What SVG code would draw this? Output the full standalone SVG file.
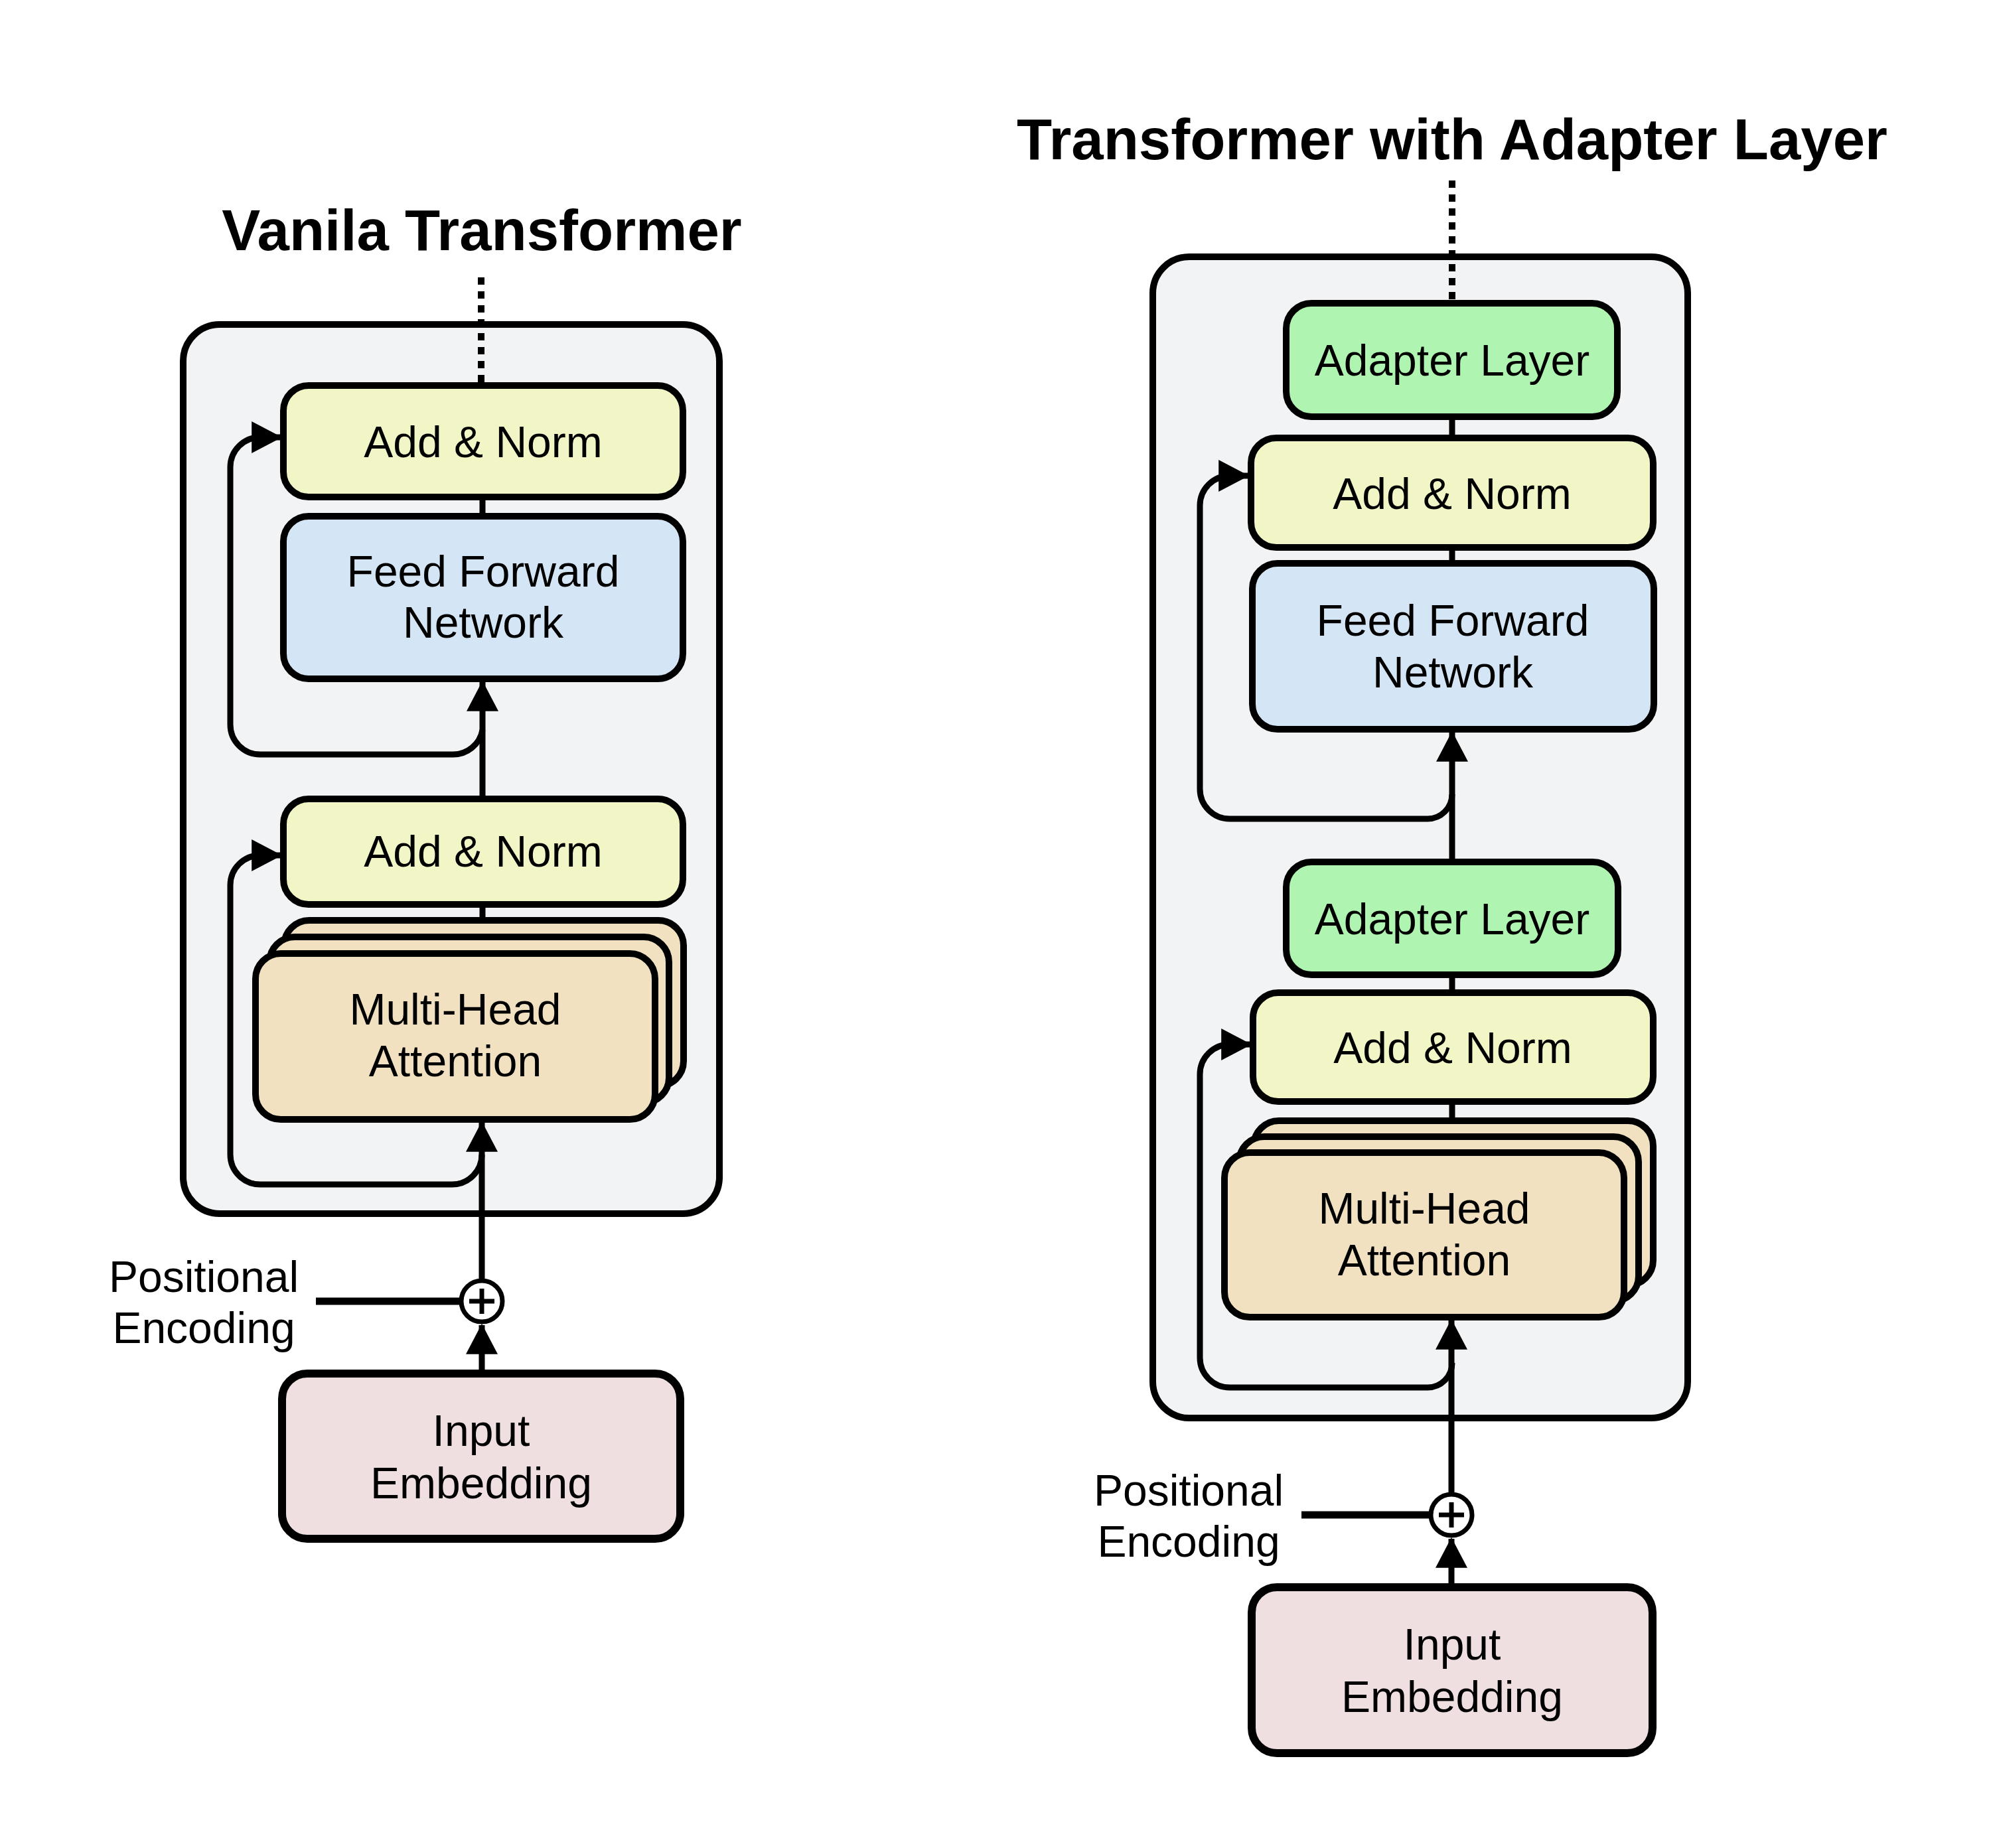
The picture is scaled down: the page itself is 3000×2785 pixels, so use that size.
<svg xmlns="http://www.w3.org/2000/svg" width="3000" height="2785" viewBox="0 0 3000 2785">
<style>
.bg{fill:#ffffff}
.cont{fill:#f2f3f5;stroke:#000;stroke-width:10}
.box{stroke:#000;stroke-width:10}
.an{fill:#f2f5c5}
.ffn{fill:#d4e6f5}
.mha{fill:#f2e1c1}
.ad{fill:#aff5b1}
.ie{fill:#efdfe0;stroke-width:12}
.t{font-family:"Liberation Sans",Arial,Helvetica,sans-serif;font-size:66px;fill:#000;text-anchor:middle}
.title{font-family:"Liberation Sans",Arial,Helvetica,sans-serif;font-size:87px;font-weight:bold;fill:#000;text-anchor:middle}
.ln{fill:none;stroke:#000;stroke-width:9}
.arr{fill:none;stroke:#000;stroke-width:9;marker-end:url(#ah)}
.dot{fill:none;stroke:#000;stroke-width:10;stroke-dasharray:11 10}
.plus{fill:#fff;stroke:#000;stroke-width:7}
</style>
<defs>
<marker id="ah" markerUnits="userSpaceOnUse" markerWidth="46" markerHeight="48" viewBox="0 0 44 46" refX="42" refY="23" orient="auto">
<path d="M0,0 L44,23 L0,46 z" fill="#000"/>
</marker>
</defs>
<rect class="bg" x="0" y="0" width="3000" height="2785"/>

<!-- Titles -->
<text id="title-left" class="title" x="726" y="377">Vanila Transformer</text>
<text id="title-right" class="title" x="2188" y="240">Transformer with Adapter Layer</text>

<!-- Containers -->
<g id="container-left"><rect class="cont" x="276" y="489" width="808" height="1340" rx="55"/></g>
<g id="container-right"><rect class="cont" x="1737" y="387" width="806" height="1750" rx="55"/></g>

<!-- Connectors -->
<g id="connectors">
<!-- left -->
<path class="dot" d="M725 418 V576"/>
<path class="ln" d="M727 749 V778"/>
<path class="arr" d="M727 1204 V1028"/>
<path class="ln" d="M727 1363 V1387"/>
<path class="arr" d="M726 1927 V1692"/>
<path class="arr" d="M726 2064 V1997"/>
<path class="ln" d="M476 1961 H692" style="stroke-width:11"/>
<path class="arr" d="M727 1100 A45 45 0 0 1 682 1137 H392 A45 45 0 0 1 347 1092 V704 A45 45 0 0 1 392 659 H423"/>
<path class="arr" d="M726 1740 A45 45 0 0 1 681 1785 H392 A45 45 0 0 1 347 1740 V1334 A45 45 0 0 1 392 1289 H423"/>
<!-- right -->
<path class="dot" d="M2188 272 V452"/>
<path class="ln" d="M2188 628 V660"/>
<path class="ln" d="M2188 825 V849"/>
<path class="arr" d="M2188 1299 V1104"/>
<path class="ln" d="M2188 1469 V1496"/>
<path class="ln" d="M2188 1660 V1689"/>
<path class="arr" d="M2187 2249 V1990"/>
<path class="arr" d="M2187 2386 V2319"/>
<path class="ln" d="M1961 2283 H2153" style="stroke-width:11"/>
<path class="arr" d="M2188 1197 A37 37 0 0 1 2151 1234 H1853 A45 45 0 0 1 1808 1189 V762 A45 45 0 0 1 1853 717 H1880"/>
<path class="arr" d="M2188 2054 A37 37 0 0 1 2151 2091 H1853 A45 45 0 0 1 1808 2046 V1619 A45 45 0 0 1 1853 1574 H1884"/>
</g>

<!-- Left nodes -->
<g id="l-addnorm1"><rect class="box an" x="427" y="581" width="602" height="168" rx="38"/><text class="t" x="728" y="689">Add &amp; Norm</text></g>
<g id="l-ffn"><rect class="box ffn" x="427" y="778" width="602" height="245" rx="38"/><text class="t" x="728" y="884">Feed Forward</text><text class="t" x="728" y="961">Network</text></g>
<g id="l-addnorm2"><rect class="box an" x="427" y="1204" width="602" height="159" rx="38"/><text class="t" x="728" y="1306">Add &amp; Norm</text></g>
<g id="l-mha">
<rect class="box mha" x="428" y="1387" width="602" height="250" rx="38"/>
<rect class="box mha" x="406" y="1412" width="602" height="250" rx="38"/>
<rect class="box mha" x="385" y="1437" width="602" height="250" rx="38"/>
<text class="t" x="686" y="1544">Multi-Head</text><text class="t" x="686" y="1622">Attention</text>
</g>
<g id="l-plus"><circle class="plus" cx="726" cy="1961" r="31"/><path d="M726 1942 V1980 M707 1961 H745" stroke="#000" stroke-width="7"/></g>
<g id="l-posenc"><text class="t" x="307" y="1947">Positional</text><text class="t" x="307" y="2024">Encoding</text></g>
<g id="l-input"><rect class="box ie" x="425" y="2070" width="600" height="249" rx="38"/><text class="t" x="725" y="2179">Input</text><text class="t" x="725" y="2258">Embedding</text></g>

<!-- Right nodes -->
<g id="r-adapter1"><rect class="box ad" x="1938" y="457" width="499" height="171" rx="38"/><text class="t" x="2188" y="566">Adapter Layer</text></g>
<g id="r-addnorm1"><rect class="box an" x="1885" y="660" width="606" height="165" rx="38"/><text class="t" x="2188" y="767">Add &amp; Norm</text></g>
<g id="r-ffn"><rect class="box ffn" x="1887" y="849" width="605" height="250" rx="38"/><text class="t" x="2189" y="958">Feed Forward</text><text class="t" x="2189" y="1036">Network</text></g>
<g id="r-adapter2"><rect class="box ad" x="1938" y="1299" width="500" height="170" rx="38"/><text class="t" x="2188" y="1408">Adapter Layer</text></g>
<g id="r-addnorm2"><rect class="box an" x="1888" y="1496" width="603" height="164" rx="38"/><text class="t" x="2189" y="1602">Add &amp; Norm</text></g>
<g id="r-mha">
<rect class="box mha" x="1889" y="1689" width="602" height="248" rx="38"/>
<rect class="box mha" x="1867" y="1713" width="602" height="248" rx="38"/>
<rect class="box mha" x="1845" y="1737" width="602" height="248" rx="38"/>
<text class="t" x="2146" y="1844">Multi-Head</text><text class="t" x="2146" y="1922">Attention</text>
</g>
<g id="r-plus"><circle class="plus" cx="2187" cy="2283" r="31"/><path d="M2187 2264 V2302 M2168 2283 H2206" stroke="#000" stroke-width="7"/></g>
<g id="r-posenc"><text class="t" x="1791" y="2269">Positional</text><text class="t" x="1791" y="2346">Encoding</text></g>
<g id="r-input"><rect class="box ie" x="1886" y="2392" width="604" height="250" rx="38"/><text class="t" x="2188" y="2501">Input</text><text class="t" x="2188" y="2580">Embedding</text></g>
</svg>
